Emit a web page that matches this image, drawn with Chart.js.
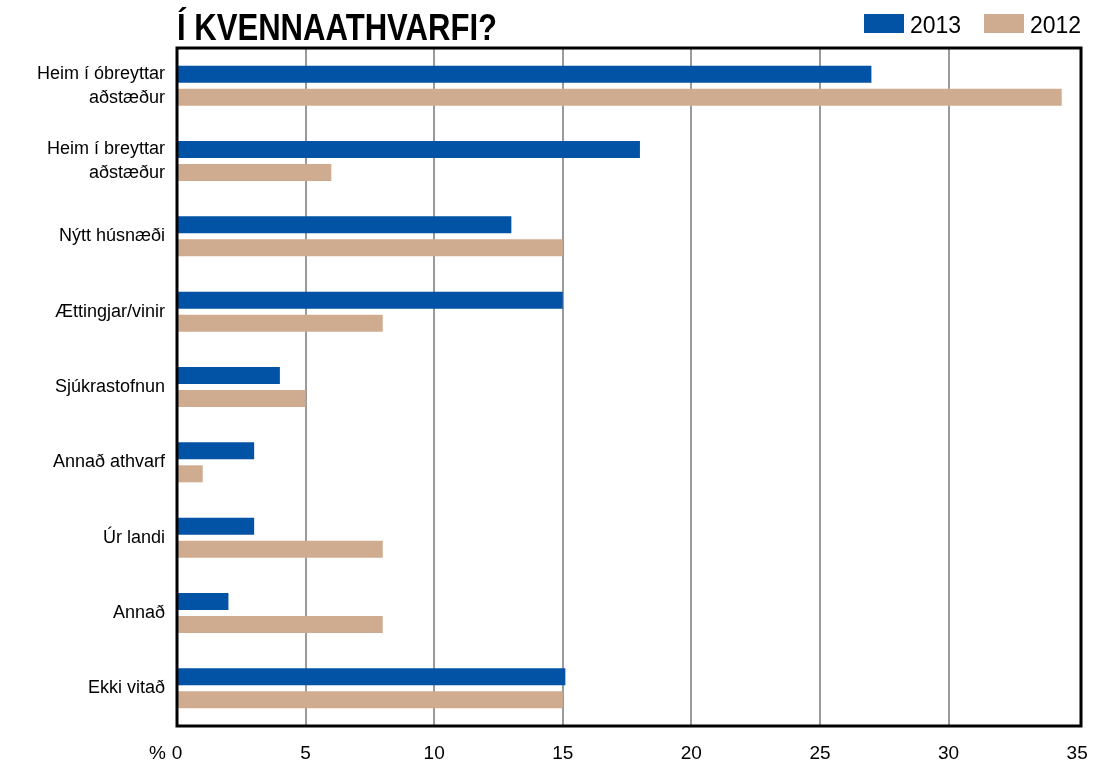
<!DOCTYPE html>
<html>
<head>
<meta charset="utf-8">
<script src="https://cdn.jsdelivr.net/npm/chart.js@4/dist/chart.umd.min.js"></script>
<style>
  html, body { margin: 0; padding: 0; background: #ffffff; }
  #wrap { width: 1097px; height: 767px; }
</style>
</head>
<body>
<div id="wrap"><canvas id="chart" width="1097" height="767"></canvas></div>
<script>
// Chart data
const chartTitle = 'Í KVENNAATHVARFI?';
const categories = [
  ['Heim í óbreyttar', 'aðstæður'],
  ['Heim í breyttar', 'aðstæður'],
  'Nýtt húsnæði',
  'Ættingjar/vinir',
  'Sjúkrastofnun',
  'Annað athvarf',
  'Úr landi',
  'Annað',
  'Ekki vitað'
];
const seriesNames = ['2013', '2012'];
const values2013 = [27, 18, 13, 15, 4, 3, 3, 2, 15.1];
const values2012 = [34.4, 6, 15, 8, 5, 1, 8, 8, 15];
const xTicks = [0, 5, 10, 15, 20, 25, 30, 35];

const BLUE = '#0252a5';
const TAN = '#cfab8f';
const FONT = '"Liberation Sans", Arial, Helvetica, sans-serif';

// frame around the plot area
const framePlugin = {
  id: 'frame',
  afterDatasetsDraw(chart) {
    const { ctx, chartArea } = chart;
    ctx.save();
    ctx.strokeStyle = '#000';
    ctx.lineWidth = 3;
    ctx.strokeRect(chartArea.left, chartArea.top,
      chartArea.right - chartArea.left, chartArea.bottom - chartArea.top);
    ctx.restore();
  }
};

// title, legend and the % sign
const decorPlugin = {
  id: 'decor',
  afterDraw(chart) {
    const { ctx, chartArea } = chart;
    ctx.save();

    // condensed bold title, squeezed to width
    ctx.font = 'bold 36px ' + FONT;
    ctx.fillStyle = '#000';
    ctx.textBaseline = 'alphabetic';
    const w = ctx.measureText(chartTitle).width;
    const targetW = 320;
    ctx.translate(chartArea.left, 40);
    ctx.scale(targetW / w, 1);
    ctx.fillText(chartTitle, 0, 0);
    ctx.setTransform(1, 0, 0, 1, 0, 0);

    // legend
    const colors = [BLUE, TAN];
    const boxX = [864, 984];
    ctx.font = '23px ' + FONT;
    seriesNames.forEach((name, i) => {
      ctx.fillStyle = colors[i];
      ctx.fillRect(boxX[i], 14, 40, 19);
      ctx.fillStyle = '#000';
      ctx.fillText(name, boxX[i] + 46, 33);
    });

    // % in front of the 0 tick
    ctx.font = '19px ' + FONT;
    ctx.textAlign = 'right';
    ctx.fillText('%', 166, 759);
    ctx.restore();
  }
};

new Chart(document.getElementById('chart'), {
  type: 'bar',
  data: {
    labels: categories,
    datasets: [
      {
        label: seriesNames[0],
        data: values2013,
        backgroundColor: BLUE,
        borderWidth: 0,
        categoryPercentage: 0.61,
        barPercentage: 0.74
      },
      {
        label: seriesNames[1],
        data: values2012,
        backgroundColor: TAN,
        borderWidth: 0,
        categoryPercentage: 0.61,
        barPercentage: 0.74
      }
    ]
  },
  options: {
    indexAxis: 'y',
    responsive: false,
    animation: false,
    layout: {
      padding: { top: 48, right: 16, bottom: 0, left: 0 }
    },
    plugins: {
      legend: { display: false },
      title: { display: false },
      tooltip: { enabled: false }
    },
    scales: {
      x: {
        min: 0,
        max: 35.15,
        afterBuildTicks(scale) {
          scale.ticks = xTicks.map((v) => ({ value: v }));
        },
        afterFit(scale) {
          scale.height = 41;
          scale.paddingLeft = 0;
          scale.paddingRight = 0;
        },
        border: { display: false },
        grid: {
          // no grid line at the two ends, the frame is there
          color: (c) => (c.tick && (c.tick.value === 0 || c.tick.value === 35)) ? 'rgba(0,0,0,0)' : '#9a9a9a',
          lineWidth: 2,
          drawTicks: false
        },
        ticks: {
          color: '#000',
          font: { family: FONT, size: 19 },
          padding: 16,
          maxRotation: 0
        }
      },
      y: {
        afterFit(scale) {
          scale.width = 177;
        },
        border: { display: false },
        grid: { display: false, drawTicks: false },
        ticks: {
          color: '#000',
          font: { family: FONT, size: 18, lineHeight: 1.33 },
          padding: 12
        }
      }
    }
  },
  plugins: [framePlugin, decorPlugin]
});
</script>
</body>
</html>
